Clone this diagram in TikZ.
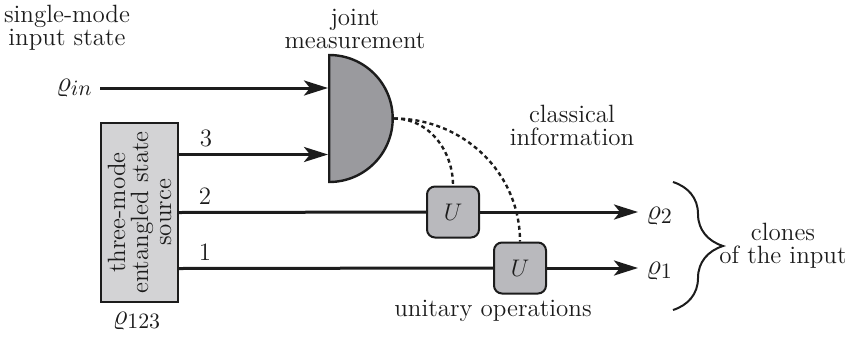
\documentclass[tikz,border=0pt]{standalone}
\usetikzlibrary{arrows.meta,shapes.geometric,decorations.pathreplacing}
\definecolor{ink}{HTML}{1C1C1C}
\definecolor{srcgray}{HTML}{D3D3D5}
\definecolor{detgray}{HTML}{9A9A9E}
\definecolor{ugray}{HTML}{B9B9BD}
\begin{document}
\begin{tikzpicture}[x=0.5pt, y=-0.5pt,
  every node/.style = {font=\fontsize{12.5}{11.5}\selectfont, text=ink},
  state/.style = {font=\fontsize{15}{15}\selectfont, inner sep=2pt},
  flow/.style = {ink, line width=1.5pt, -{Stealth[length=12pt, width=7.5pt, inset=3pt]}},
  wire/.style = {ink, line width=1.5pt},
  classical/.style = {ink, line width=1.2pt, dash pattern=on 2pt off 1.6pt},
  ubox/.style = {draw=ink, line width=1pt, fill=ugray, rounded corners=4pt,
                 minimum width=26pt, minimum height=25.5pt, inner sep=0pt}]
\useasboundingbox (0,0) rectangle (845,338);
% source of the entangled modes
\node[draw=ink, line width=1pt, fill=srcgray, minimum width=38.7pt, minimum height=89.5pt,
      inner sep=0pt] at (139.5,212.5) (src) {};
\node[rotate=90, align=center] at (src) {three-mode\\entangled state\\source};
\node[state] at (137,321) (rho123) {$\varrho_{123}$};
% measurement
\node[semicircle, shape border rotate=270, draw=ink, line width=1.2pt, fill=detgray,
      minimum size=31.75pt, inner sep=0pt, anchor=chord center] at (328,118.5) (det) {};
\node[state, anchor=east] at (97,88) (qin) {$\varrho_{in}$};
% unitaries
\node[ubox] at (453,212) (u1) {$U$};
\node[ubox] at (520,268) (u2) {$U$};
\node[state, anchor=west] at (642,216) (r2) {$\varrho_2$};
\node[state, anchor=west] at (642,271) (r1) {$\varrho_1$};
% quantum channels
\draw[flow] ([xshift=1.5pt]qin.east) -- (qin.east -| det.chord center);
\draw[flow] ([yshift=29pt]src.east) -- ([yshift=29pt]src.east -| det.chord center);
\draw[wire] (src.east) -- (u1.west);
\draw[flow] (u1.east) -- ([xshift=-2pt]r2.west |- u1.east);
\draw[wire] ([yshift=-28pt]src.east) -- (u2.west);
\draw[flow] (u2.east) -- ([xshift=-2pt]r1.west |- u2.east);
\node at (206,138) (n3) {3};
\node at (205,196) (n2) {2};
\node at (205,252) (n1) {1};
% classical channels
\draw[classical] (det.apex) to[out=0, in=90] (u1.north);
\draw[classical] (det.apex) to[out=0, in=90] (u2.north);
% the two copies
\coordinate (btop) at (673,182);
\coordinate (bbot) at (673,310);
\draw[ink, line width=1pt, decorate, decoration={brace, amplitude=25pt}] (btop) -- (bbot);
% labels
\node[align=center] at (67,28) (lin) {single-mode\\input state};
\node[align=center] at (355,29) (ljm) {joint\\measurement};
\node[align=center] at (572,125) (lci) {classical\\information};
\node at (493,311) (luo) {unitary operations};
\node[align=center] at (783,246) (lcl) {clones\\of the input};
\end{tikzpicture}
\end{document}
